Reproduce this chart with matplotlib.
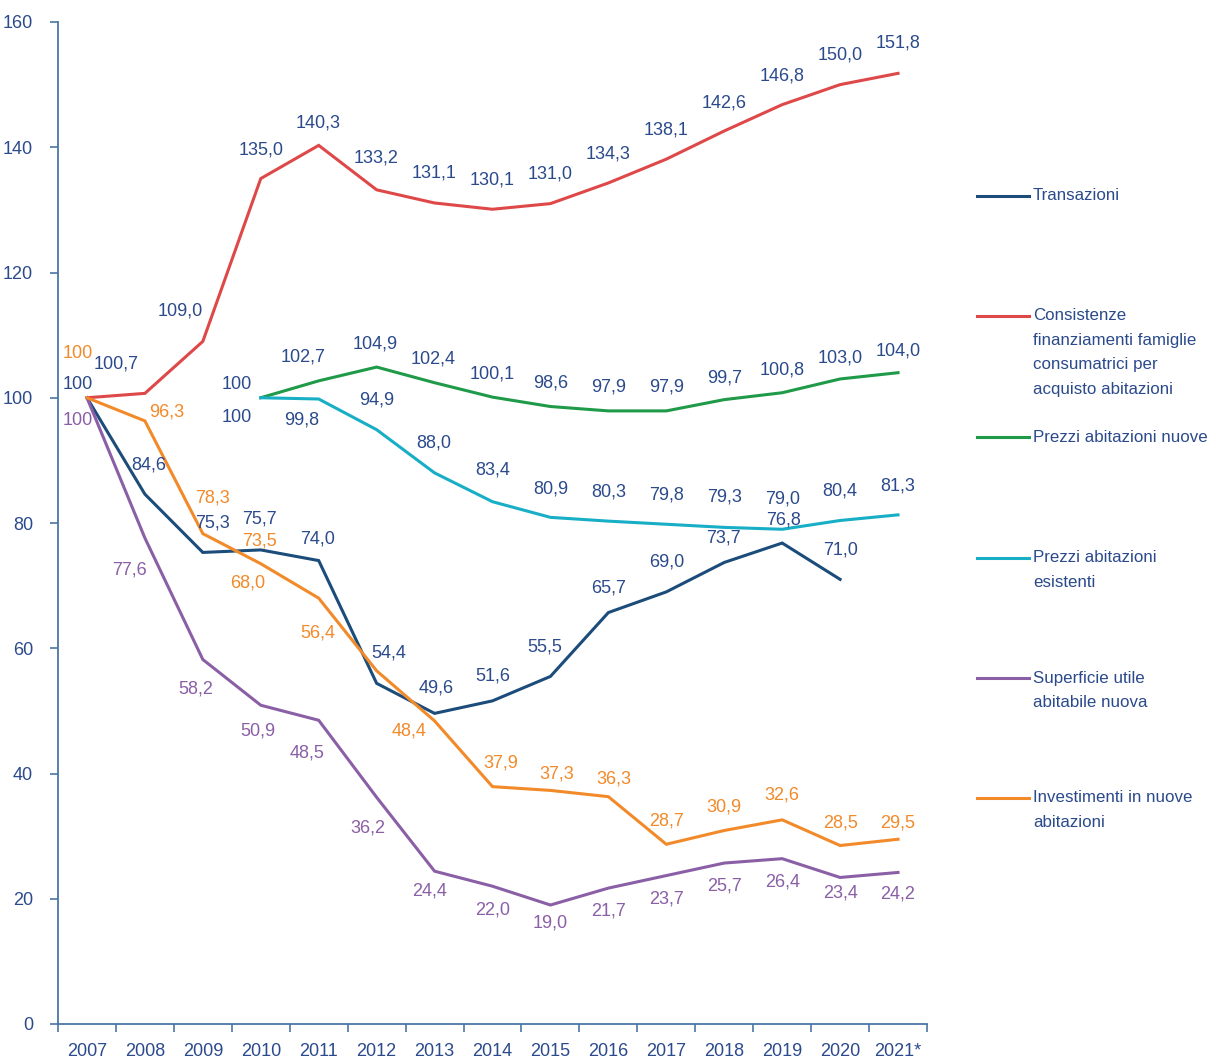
import numpy as np
import matplotlib.pyplot as plt
from matplotlib.lines import Line2D

plt.rcParams['font.family'] = ['Liberation Sans', 'DejaVu Sans']

# --- data (indici 2007 = 100) ---
anni = ['2007', '2008', '2009', '2010', '2011', '2012', '2013', '2014',
        '2015', '2016', '2017', '2018', '2019', '2020', '2021*']

transazioni = [100, 84.6, 75.3, 75.7, 74.0, 54.4, 49.6, 51.6, 55.5, 65.7,
               69.0, 73.7, 76.8, 71.0, np.nan]
consistenze = [100, 100.7, 109.0, 135.0, 140.3, 133.2, 131.1, 130.1, 131.0,
               134.3, 138.1, 142.6, 146.8, 150.0, 151.8]
prezzi_nuove = [np.nan, np.nan, np.nan, 100, 102.7, 104.9, 102.4, 100.1,
                98.6, 97.9, 97.9, 99.7, 100.8, 103.0, 104.0]
prezzi_esistenti = [np.nan, np.nan, np.nan, 100, 99.8, 94.9, 88.0, 83.4,
                    80.9, 80.3, 79.8, 79.3, 79.0, 80.4, 81.3]
superficie = [100, 77.6, 58.2, 50.9, 48.5, 36.2, 24.4, 22.0, 19.0, 21.7,
              23.7, 25.7, 26.4, 23.4, 24.2]
investimenti = [100, 96.3, 78.3, 73.5, 68.0, 56.4, 48.4, 37.9, 37.3, 36.3,
                28.7, 30.9, 32.6, 28.5, 29.5]

nomi = ['Transazioni',
        'Consistenze\nfinanziamenti famiglie\nconsumatrici per\nacquisto abitazioni',
        'Prezzi abitazioni nuove',
        'Prezzi abitazioni\nesistenti',
        'Superficie utile\nabitabile nuova',
        'Investimenti in nuove\nabitazioni']

# --- styles ---
TXT = '#2B4A8C'
AX = '#4A76A3'
col_tr = '#1B4C7A'
col_co = '#DF4848'
col_pn = '#1F9A48'
col_pe = '#17AEC6'
col_su = '#8A5FA6'
col_in = '#F28A2A'

# label offsets in pixels (dx, dy) relative to each point
off_tr = [(-9, 13), (4, 29), (10, 29), (-1, 31), (-1, 22), (12, 30), (2, 25),
          (0, 25), (-6, 29), (0, 25), (0, 30), (-1, 24), (1, 23), (0, 29), None]
off_co = [None, (-29, 29), (-23, 30), (0, 29), (-1, 22), (-1, 32), (-1, 30),
          (0, 29), (0, 30), (0, 29), (0, 29), (0, 28), (0, 29), (0, 30), (0, 30)]
off_pn = [None, None, None, (-24, 13), (-16, 24), (-1, 23), (-1, 24), (0, 23),
          (0, 24), (0, 24), (0, 24), (0, 22), (0, 23), (0, 21), (0, 22)]
off_pe = [None, None, None, (-24, -20), (-17, -21), (0, 30), (-1, 30), (0, 32),
          (0, 28), (0, 29), (0, 29), (0, 30), (0, 30), (0, 29), (0, 29)]
off_su = [(-9, -23), (-15, -32), (-7, -29), (-3, -26), (-12, -33), (-9, -31),
          (-5, -20), (0, -24), (0, -18), (0, -23), (0, -23), (0, -23), (0, -23),
          (0, -16), (0, -22)]
off_in = [(-9, 44), (22, 9), (10, 36), (-1, 23), (-71, 15), (-59, 38),
          (-26, -10), (8, 24), (6, 16), (5, 18), (0, 23), (0, 23), (0, 25),
          (0, 23), (0, 16)]

serie = [(transazioni, col_tr, TXT, off_tr),
         (consistenze, col_co, TXT, off_co),
         (prezzi_nuove, col_pn, TXT, off_pn),
         (prezzi_esistenti, col_pe, TXT, off_pe),
         (superficie, col_su, col_su, off_su),
         (investimenti, col_in, col_in, off_in)]

fig = plt.figure(figsize=(12.16, 10.59), dpi=100)
ax = fig.add_axes([58 / 1216, 1 - 1024 / 1059, (927 - 58) / 1216, (1024 - 22) / 1059])

x = np.arange(len(anni))

# draw order: purple, orange, cyan, green, red, dark blue on top
for i in [4, 5, 3, 2, 1, 0]:
    vals, lc, tc, offs = serie[i]
    ax.plot(x, vals, color=lc, lw=2.2, solid_joinstyle='miter', zorder=3 + i)
    for xi, v, o in zip(x, vals, offs):
        if o is None or np.isnan(v):
            continue
        lab = f'{v:.1f}'.replace('.', ',') if v != 100 or xi in (1, 2) else '100'
        ax.annotate(lab, (xi, v), xytext=o, textcoords='offset pixels',
                    ha='center', va='center', color=tc, fontsize=13, zorder=10)

ax.set_xlim(-0.5, len(anni) - 0.5)
ax.set_ylim(0, 160)
ax.set_yticks(np.arange(0, 161, 20))
ax.set_xticks(np.arange(-0.5, len(anni), 1))
ax.set_xticklabels([])
ax.set_xticks(x, minor=True)
ax.set_xticklabels(anni, minor=True)
ax.tick_params(axis='x', which='minor', length=0, pad=14, labelsize=13, labelcolor=TXT)
ax.tick_params(axis='x', which='major', direction='out', length=6, width=1.2, color=AX)
ax.tick_params(axis='y', direction='out', length=6, width=1.2, color=AX,
               labelsize=13, labelcolor=TXT, pad=12)

for s in ['top', 'right']:
    ax.spines[s].set_visible(False)
for s in ['left', 'bottom']:
    ax.spines[s].set_color(AX)
    ax.spines[s].set_linewidth(1.3)

# legend on the right, drawn by hand
leg_y = [196, 316, 437, 558, 678, 798]
leg_col = [col_tr, col_co, col_pn, col_pe, col_su, col_in]
W, H = 1216, 1059
for ly, c, nome in zip(leg_y, leg_col, nomi):
    fig.add_artist(Line2D([977 / W, 1029 / W], [1 - ly / H, 1 - ly / H],
                          color=c, lw=2.2, transform=fig.transFigure))
    for k, riga in enumerate(nome.split('\n')):
        fig.text(1033 / W, 1 - (ly + k * 24.5) / H, riga, color=TXT,
                 fontsize=12.2, ha='left', va='center')

fig.savefig('out.png', dpi=100)
